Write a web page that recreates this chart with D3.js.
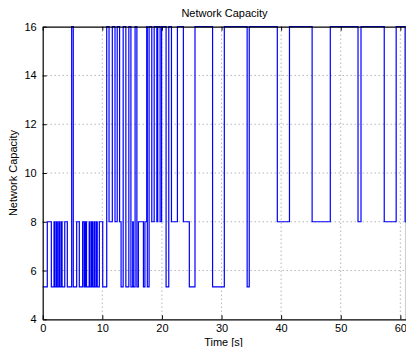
<!DOCTYPE html>
<html><head><meta charset="utf-8">
<script src="https://cdn.jsdelivr.net/npm/d3@7"></script>
<style>body{margin:0;background:#fff}svg{display:block}text{font-family:"Liberation Sans",Arial,sans-serif;fill:#000}</style>
</head><body><svg id="c" width="406" height="347"></svg>
<script>
const LOW = 16/3;
// change points: time [s] at which the capacity switches to the given value
const changeTimes = [0,0.77,1.45,1.9,2.05,2.3,2.45,2.7,2.85,3.1,3.25,3.7,4.13,4.86,5.13,5.7,6.14,6.7,6.95,7.15,7.35,7.8,7.95,8.2,8.35,8.6,8.75,9.0,9.15,9.5,10.07,10.74,11.13,11.68,12.13,12.5,12.9,13.15,13.5,13.95,14.45,14.8,15.1,15.2,15.5,15.8,16.05,16.9,17.15,17.45,17.55,17.85,18.3,18.7,19.15,19.3,19.7,19.95,20.7,21.15,21.6,22.6,23.6,24.6,25.55,28.5,30.47,34.3,34.65,39.36,41.4,45.2,48.25,52.9,53.4,57.3,59.3,60.8,61];
const changeValues = [LOW,8,LOW,8,LOW,8,LOW,8,LOW,8,LOW,8,LOW,16,LOW,8,LOW,8,LOW,8,LOW,8,LOW,8,LOW,8,LOW,8,LOW,8,LOW,16,8,16,8,16,8,LOW,16,LOW,16,LOW,8,LOW,16,LOW,8,LOW,8,16,LOW,16,8,16,8,16,8,16,LOW,16,8,16,8,LOW,16,LOW,16,LOW,16,8,16,8,16,8,16,8,16,8,8];
const xTicks = [0,10,20,30,40,50,60];
const yTicks = [4,6,8,10,12,14,16];
const title = "Network Capacity", xLabel = "Time [s]", yLabel = "Network Capacity";

const svg = d3.select("#c");
const L = 42.7, T = 26.7, R = 406.3, B = 319.3;
const x = d3.scaleLinear().domain([0,61]).range([L,R]);
const y = d3.scaleLinear().domain([4,16]).range([B,T]);

// grid
const g = svg.append("g");
g.selectAll(".gx").data(xTicks.filter(d=>d>0)).enter().append("line")
  .attr("x1",d=>x(d)).attr("x2",d=>x(d)).attr("y1",T).attr("y2",B)
  .attr("stroke","#777").attr("stroke-width",0.8).attr("stroke-dasharray","1,3");
g.selectAll(".gy").data(yTicks.filter(d=>d>4&&d<16)).enter().append("line")
  .attr("x1",L).attr("x2",R).attr("y1",d=>y(d)).attr("y2",d=>y(d))
  .attr("stroke","#777").attr("stroke-width",0.8).attr("stroke-dasharray","1,3");

// data line
const pts = changeTimes.map((t,i)=>[t,changeValues[i]]);
const line = d3.line().x(d=>x(d[0])).y(d=>y(d[1])).curve(d3.curveStepAfter);
svg.append("path").datum(pts).attr("d",line).attr("fill","none")
  .attr("stroke","#0000ff").attr("stroke-width",1.2);

// axes
const xa = svg.append("g").attr("transform",`translate(0,${B})`)
  .call(d3.axisBottom(x).tickValues(xTicks).tickSizeInner(-4).tickSizeOuter(0).tickPadding(5));
const ya = svg.append("g").attr("transform",`translate(${L},0)`)
  .call(d3.axisLeft(y).tickValues(yTicks).tickSizeInner(-4).tickSizeOuter(0).tickPadding(6));
const xt = svg.append("g").attr("transform",`translate(0,${T})`)
  .call(d3.axisTop(x).tickValues(xTicks).tickSizeInner(-4).tickSizeOuter(0).tickFormat(""));
[xa,ya,xt].forEach(a=>{a.select(".domain").attr("stroke","#000").attr("stroke-width",1.2);
  a.selectAll(".tick line").attr("stroke","#000");
  a.selectAll("text").style("font-size","11px").attr("fill","#000").style("font-family","'Liberation Sans',Arial,sans-serif");});
svg.append("line").attr("x1",R).attr("x2",R).attr("y1",T).attr("y2",B).attr("stroke","#000");

svg.append("text").attr("x",(L+R)/2).attr("y",17).attr("text-anchor","middle").style("font-size","11px").text(title);
svg.append("text").attr("x",(L+R)/2 - 1).attr("y",346).attr("text-anchor","middle").style("font-size","11px").text(xLabel);
svg.append("text").attr("transform",`translate(17,${(T+B)/2}) rotate(-90)`).attr("text-anchor","middle").style("font-size","11px").text(yLabel);
</script></body></html>
